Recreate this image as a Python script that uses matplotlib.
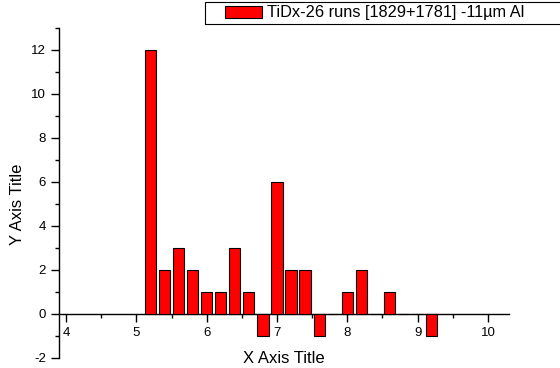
import numpy as np
import matplotlib
matplotlib.use('Agg')
import matplotlib.pyplot as plt
from matplotlib.ticker import MultipleLocator
from matplotlib.patches import Rectangle

plt.rcParams['font.family'] = ['Liberation Sans', 'DejaVu Sans']
plt.rcParams['axes.unicode_minus'] = False

# bin centres and counts
x_centres = [5.2, 5.4, 5.6, 5.8, 6.0, 6.2, 6.4, 6.6, 6.8, 7.0, 7.2,
             7.4, 7.6, 7.8, 8.0, 8.2, 8.4, 8.6, 8.8, 9.0, 9.2]
counts = [12, 2, 3, 2, 1, 1, 3, 1, -1, 6, 2,
          2, -1, 0, 1, 2, 0, 1, 0, 0, -1]
series_label = 'TiDx-26 runs [1829+1781] -11\u00b5m Al'

W, H = 560, 368
fig = plt.figure(figsize=(W / 100, H / 100), dpi=100)
ax = fig.add_axes([59 / W, 1 - 358 / H, 450 / W, 330 / H])

bars = ax.bar(x_centres, counts, width=0.16, color='#ff0000',
              edgecolor='black', linewidth=0.8, label=series_label, zorder=3)

ax.set_xlim(3.9, 10.3)
ax.set_ylim(-2, 13)

# origin style axes: x axis sits on y=0
ax.spines['top'].set_visible(False)
ax.spines['right'].set_visible(False)
ax.spines['bottom'].set_position(('data', 0))
ax.spines['bottom'].set_linewidth(1.0)
ax.spines['left'].set_linewidth(1.0)

ax.xaxis.set_major_locator(MultipleLocator(1))
ax.xaxis.set_minor_locator(MultipleLocator(0.5))
ax.yaxis.set_major_locator(MultipleLocator(2))
ax.yaxis.set_minor_locator(MultipleLocator(1))
ax.tick_params(which='major', direction='out', length=6, width=1, labelsize=9.5)
ax.tick_params(which='minor', direction='out', length=3, width=1)

ax.set_xlabel('X Axis Title', fontsize=12, va='baseline')
ax.set_ylabel('Y Axis Title', fontsize=12)
ax.xaxis.set_label_coords(284 / W, 1 - 363 / H, transform=fig.transFigure)
ax.yaxis.set_label_coords(25 / W, 1 - 204 / H, transform=fig.transFigure)

# legend without its own frame, box drawn so it runs off the right edge
leg = fig.legend(handles=[bars], labels=[series_label], loc='upper left',
                 bbox_to_anchor=(222 / W, 1 - 2 / H), fontsize=11.8,
                 frameon=False, handlelength=2.25, handleheight=0.75,
                 borderpad=0.2, handletextpad=0.3, borderaxespad=0)
fig.patches.append(Rectangle((205 / W, 1 - 24 / H), 370 / W, 22 / H,
                             transform=fig.transFigure, fill=False,
                             edgecolor='black', linewidth=0.8, clip_on=False))

fig.savefig('out.png', dpi=100)
